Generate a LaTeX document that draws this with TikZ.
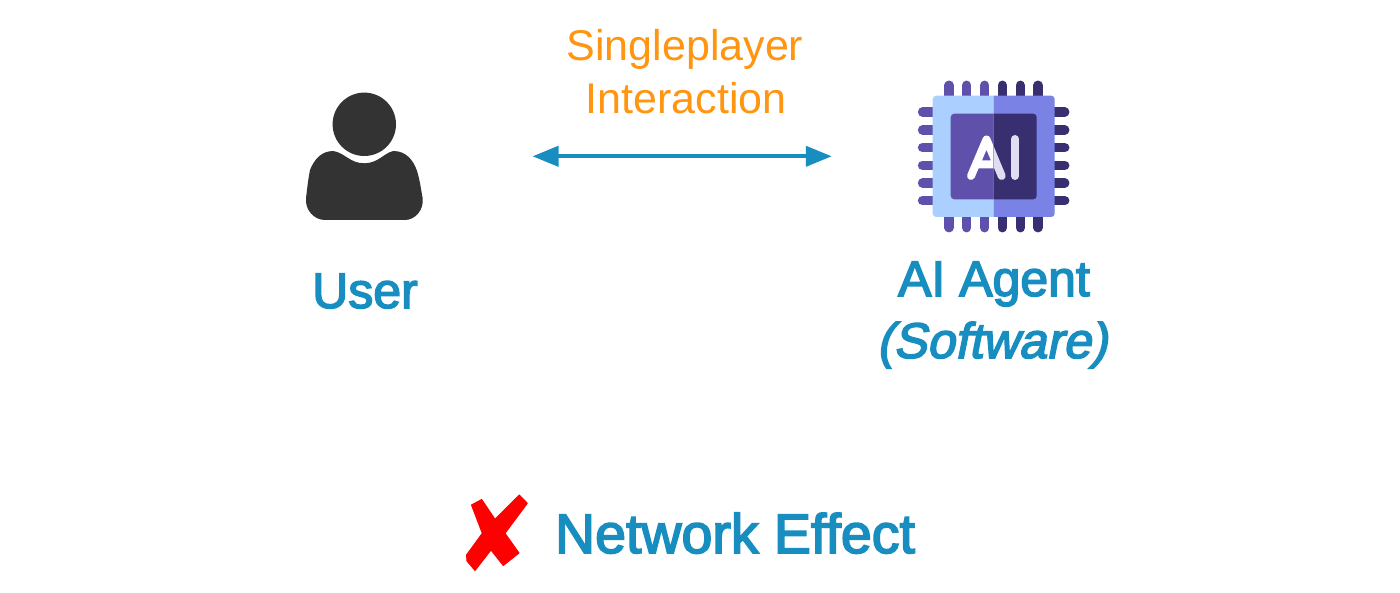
\documentclass[tikz,border=0pt]{standalone}
\usepackage{fontspec}
\setmainfont{Liberation Sans}
\newfontfamily\medfont[BoldFont={Liberation Sans},BoldFeatures={FakeBold=3}]{Liberation Sans}
\newfontfamily\meditfont[BoldFont={Liberation Sans},BoldFeatures={FakeBold=3,FakeSlant=0.2}]{Liberation Sans}
\usetikzlibrary{arrows.meta}
\definecolor{bluetxt}{HTML}{178EBF}
\definecolor{orangetxt}{HTML}{FF9511}
\definecolor{pinL}{HTML}{5E50AB}
\definecolor{pinR}{HTML}{372F70}
\definecolor{bodyL}{HTML}{ABCFFF}
\definecolor{bodyR}{HTML}{7A82E6}
\definecolor{lav}{HTML}{E0DDF3}
\definecolor{person}{HTML}{333333}
\tikzset{
  orangelabel/.style={text=orangetxt,anchor=base,inner sep=0pt,font=\fontsize{43}{43}\selectfont},
  bluelabel/.style={text=bluetxt,anchor=base,inner sep=0pt,font=\fontsize{50}{50}\selectfont\medfont\bfseries},
  pinline/.style={line width=9.5pt,line cap=round},
  linkarrow/.style={draw=bluetxt,line width=4pt,{Triangle[length=26pt,width=20pt]}-{Triangle[length=26pt,width=20pt]}},
  aistroke/.style={line width=8pt,line cap=round,line join=round}
}
\begin{document}
\begin{tikzpicture}[x=1pt,y=-1pt]
\useasboundingbox (0,0) rectangle (1400,593);
\fill[white] (0,0) rectangle (1400,593);
% person
\fill[person] (364.3,124.3) circle[radius=31.7];
\fill[person] (333.3,151) .. controls (345,153) and (350,163.3) .. (364.3,163.3)
  .. controls (378,163.3) and (384,153) .. (393.3,151)
  .. controls (406,151) and (413,160) .. (416.7,170)
  .. controls (420,180) and (421,190) .. (422.7,198.3)
  .. controls (424,210) and (415,220) .. (405,220)
  -- (325,220)
  .. controls (314,220) and (305,210) .. (306,198.3)
  .. controls (307,190) and (308,180) .. (310,170)
  .. controls (314,160) and (321,151) .. (333.3,151) -- cycle;
% chip pins
\foreach \x in {949,966.7,984.7}{
  \draw[pinline,pinL] (\x,85.3) -- (\x,110);
  \draw[pinline,pinL] (\x,205) -- (\x,227.7);}
\foreach \x in {1002.3,1020.3,1038}{
  \draw[pinline,pinR] (\x,85.3) -- (\x,110);
  \draw[pinline,pinR] (\x,205) -- (\x,227.7);}
\foreach \y in {112,130,147.7,165.3,183,200.7}{
  \draw[pinline,pinL] (922.6,\y) -- (945,\y);
  \draw[pinline,pinR] (1042,\y) -- (1064.7,\y);}
% chip body
\begin{scope}
\clip (925,80) rectangle (993.7,240);
\fill[bodyL,rounded corners=3.5pt] (932.7,95.7) rectangle (1054.7,217);
\fill[pinL,rounded corners=3.5pt] (950.7,113.7) rectangle (1036.7,199.3);
\draw[aistroke,white] (971,176) -- (986.5,139.5) -- (1001.7,176) (977,164.5) -- (996,164.5);
\end{scope}
\begin{scope}
\clip (993.7,80) rectangle (1060,240);
\fill[bodyR,rounded corners=3.5pt] (932.7,95.7) rectangle (1054.7,217);
\fill[pinR,rounded corners=3.5pt] (950.7,113.7) rectangle (1036.7,199.3);
\draw[aistroke,lav] (971,176) -- (986.5,139.5) -- (1001.7,176) (977,164.5) -- (996,164.5);
\draw[aistroke,lav] (1015,139) -- (1015,176);
\end{scope}
% arrow
\coordinate (arrowL) at (532.5,156.3);
\coordinate (arrowR) at (831.8,156.3);
\draw[linkarrow] (arrowL) -- (arrowR);
% labels
\node[orangelabel] (single) at (685,61) {Singleplayer};
\node[orangelabel] (inter) at (686,114) {Interaction};
\node[bluelabel] (user) at (365,308) {User};
\node[bluelabel] (agent) at (994,296) {AI Agent};
\node[bluelabel,font=\fontsize{50}{50}\selectfont\meditfont\bfseries] (soft) at (992,358) {(Software)};
\node[bluelabel,font=\fontsize{55.5}{55.5}\selectfont\medfont\bfseries] (net) at (735,553) {Network Effect};
% cross
\fill[red,draw=red,line width=1pt,line join=round] (519.3,495) -- (527.3,503.3) -- (505,533.3) -- (519,553) -- (503.3,565.5) -- (491,550) -- (475,570.5) -- (467,561) -- (466.5,555) -- (482.3,533.3) -- (471.5,505) -- (481.7,499.5) -- (495,519.3) -- cycle;
\end{tikzpicture}
\end{document}
